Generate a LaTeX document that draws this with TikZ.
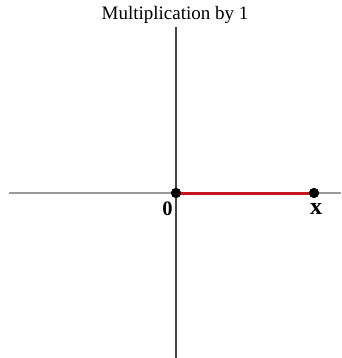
\documentclass[tikz,border=0pt]{standalone}
\usepackage{fontspec}
\setmainfont{Liberation Serif}
\definecolor{axisgray}{HTML}{9A9A9A}
\definecolor{vaxis}{HTML}{444444}
\definecolor{segred}{HTML}{C8141E}
\begin{document}
\begin{tikzpicture}[x=1pt,y=-1pt,
  dot/.style={circle,fill=black,inner sep=0pt,minimum size=10pt},
  lbl/.style={font=\fontsize{20.5}{22}\selectfont\bfseries,inner sep=0pt},
  lblx/.style={font=\fontsize{24}{26}\selectfont\bfseries,inner sep=0pt},
  ttl/.style={font=\fontsize{19}{21}\selectfont,inner sep=0pt}]
\useasboundingbox (0,0) rectangle (341,358);
\coordinate (hl) at (9,193);
\coordinate (hr) at (341,193);
\coordinate (vt) at (176,27);
\coordinate (vb) at (176,358);
\draw[axisgray,line width=1.5pt] (hl) -- (hr);
\draw[vaxis,line width=1.2pt] (vt) -- (vb);
\node[dot] (o) at (176,193) {};
\node[dot] (x) at (314,193) {};
\draw[segred,line width=3pt] (o.center) -- (x.center);
\node[dot] at (o) {};
\node[dot] at (x) {};
\node[lbl] (l0) at (167.5,209) {0};
\node[lblx] (lx) at (316,208.5) {x};
\node[ttl] (t) at (175,15) {Multiplication by 1};
\end{tikzpicture}
\end{document}
